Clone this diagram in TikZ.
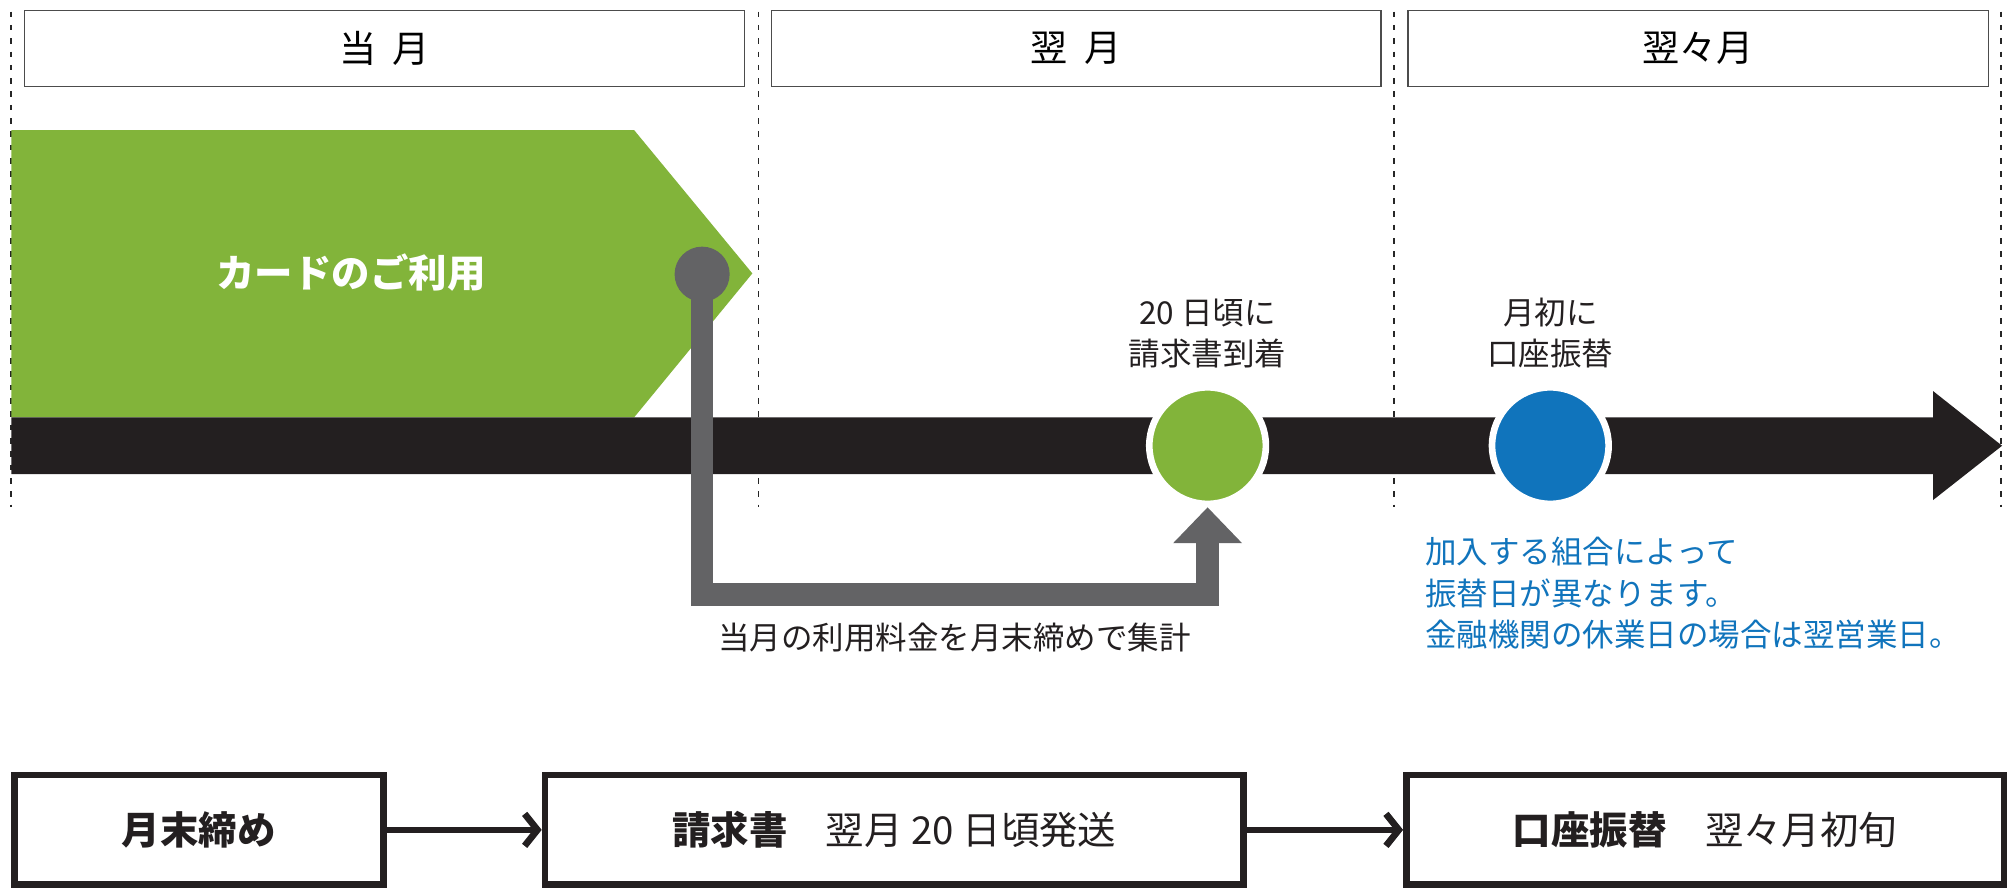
\documentclass[tikz,border=0pt]{standalone}
\usepackage{xcolor}
\usepackage{fontspec}
\setmainfont{Noto Sans CJK JP}
\usetikzlibrary{positioning, arrows.meta}

\definecolor{usegreen}{RGB}{130,180,58}
\definecolor{barblack}{RGB}{35,31,32}
\definecolor{linkgray}{RGB}{99,99,101}
\definecolor{paidblue}{RGB}{16,116,188}

\begin{document}
\begin{tikzpicture}[x=1pt, y=-1pt,
    monthbox/.style={draw=black!70, line width=1pt, minimum height=59.4pt, inner sep=0pt, font=\fontsize{29}{34}\selectfont},
    stepbox/.style={draw=barblack, line width=5.2pt, minimum height=85.4pt, inner sep=0pt, text=barblack, font=\fontsize{30}{36}\selectfont},
    daydot/.style={circle, fill=#1, draw=white, line width=5.2pt, minimum size=91pt, inner sep=0pt},
    note/.style={font=\fontsize{24.6}{32.5}\selectfont, text=barblack, align=center, inner sep=0pt}
  ]
  \useasboundingbox (0,0) rectangle (1568,693);

  \foreach \x in {8.8, 592, 1088, 1562} {
    \draw[black!85, line width=1.5pt, dash pattern=on 4.4pt off 6pt] (\x,9) -- (\x,396);
  }

  \node (m1) at (300.2,38) [monthbox, minimum width=561.9pt] {当\hspace{0.45em}月};
  \node (m2) at (840,38) [monthbox, minimum width=475.8pt] {翌\hspace{0.45em}月};
  \node (m3) at (1325.4,38) [monthbox, minimum width=453pt] {翌々月};

  % card use
  \fill[usegreen] (8.8,101.5) -- (494.9,101.5) -- (587.2,213.4) -- (494.9,325.8) -- (8.8,325.8) -- cycle;
  \node (use) at (274,213) [text=white, font=\bfseries\fontsize{30}{36}\selectfont] {カードのご利用};

  % time line
  \fill[barblack] (8.8,325.8) -- (1508.7,325.8) -- (1508.7,305.2) -- (1562.6,347.9)
    -- (1508.7,390.3) -- (1508.7,370) -- (8.8,370) -- cycle;

  \node (cut) at (548,214) [circle, fill=linkgray, minimum size=43pt, inner sep=0pt] {};
  \node (bill) at (942.5,347.8) [daydot=usegreen] {};
  \node (debit) at (1210,347.8) [daydot=paidblue] {};
  \coordinate (corner) at (942.5,464.2);

  \draw[linkgray, line width=17.6pt, line join=miter, -{Triangle[length=28pt, width=52pt]}] (cut.center) |- (corner) -- (bill.south);

  \node (billnote) [note, above=12pt of bill] {20 日頃に\\請求書到着};
  \node (debitnote) [note, above=12pt of debit] {月初に\\口座振替};
  \node (sumnote) at (745,498) [note] {当月の利用料金を月末締めで集計};
  \node (rule) at (1112,463) [note, anchor=west, align=left, text=paidblue] {加入する組合によって\\振替日が異なります。\\金融機関の休業日の場合は翌営業日。};

  % steps
  \node (close) at (155.2,647.7) [stepbox, minimum width=288.2pt] {\bfseries 月末締め};
  \node (send) at (698,647.7) [stepbox, minimum width=545.2pt] {{\bfseries 請求書}　翌月 20 日頃発送};
  \node (pay) at (1330.8,647.7) [stepbox, minimum width=466.3pt] {{\bfseries 口座振替}　翌々月初旬};

  \draw[barblack, line width=5.2pt, -{Straight Barb[length=10pt, width=25pt]}] (close) -- (send);
  \draw[barblack, line width=5.2pt, -{Straight Barb[length=10pt, width=25pt]}] (send) -- (pay);
\end{tikzpicture}
\end{document}
